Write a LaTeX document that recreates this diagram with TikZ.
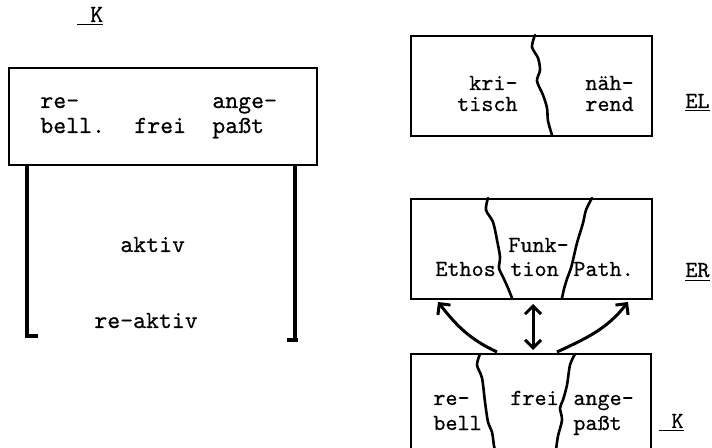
\documentclass[tikz,border=0pt]{standalone}
\usepackage{fontspec}
\usetikzlibrary{arrows.meta}
\newfontfamily\tw{lmmono10-regular.otf}[FakeBold=0.5]
\begin{document}
\begin{tikzpicture}[x=0.5pt,y=-0.5pt,
  boxline/.style={line width=1.1pt},
  legline/.style={line width=1.6pt},
  divline/.style={line width=1.3pt, line join=round, line cap=round},
  arrline/.style={line width=1.5pt, -{Straight Barb[length=4pt,width=8pt]}},
  dblarr/.style={line width=1.5pt, {Straight Barb[length=4pt,width=8pt]}-{Straight Barb[length=4pt,width=8pt]}},
  txt/.style={font=\fontsize{11.5}{13}\tw, inner sep=0pt},
  bigtxt/.style={font=\fontsize{12.3}{14}\tw, inner sep=0pt},
  bw/.style={txt, anchor=base west},
  be/.style={txt, anchor=base east},
  lw/.style={bigtxt, anchor=base west}]
\useasboundingbox (0,0) rectangle (712,448);
\fill[white] (0,0) rectangle (712,448);

% ---------- left figure ----------
\node[lw] (kl) at (77,22) {\underline{\ K}};
\node (lbox) [boxline, draw, minimum width=154pt, minimum height=48.5pt, inner sep=0pt, anchor=north west] at (8,67) {};
\node[lw] (l1) at (40,108) {re-};
\node[lw] (l2) at (40,133) {bell.};
\node[lw] (l3) at (134,133) {frei};
\node[lw] (l4) at (212,108) {ange-};
\node[lw] (l5) at (212,133) {paßt};
\draw[legline] (27,164) -- (27,336) -- (38,336);
\draw[legline] (295,164) -- (295,340);
\draw[legline] (287,340) -- (298,340);
\node[lw] (akt) at (120,252) {aktiv};
\node[lw] (rakt) at (94,328) {re-aktiv};

% ---------- EL box ----------
\node (el) [boxline, draw, minimum width=120.5pt, minimum height=50pt, inner sep=0pt, anchor=north west] at (410,35) {};
\draw[divline] plot[smooth] coordinates {(535,35) (532,47) (538,58) (540,70) (537,81) (543,95) (547,108) (548,121) (552,135)};
\node[be] (e1) at (518,90) {kri-};
\node[be] (e2) at (518,111) {tisch};
\node[bw] (e3) at (585,90) {näh-};
\node[bw] (e4) at (585,111) {rend};
\node[bw] (lel) at (685,108) {\underline{EL}};

% ---------- ER box ----------
\node (er) [boxline, draw, minimum width=120.5pt, minimum height=50pt, inner sep=0pt, anchor=north west] at (410,198) {};
\draw[divline] plot[smooth] coordinates {(488,198) (486,210) (493,222) (497,240) (500,257) (499,268) (503,277) (508,288) (512,298)};
\draw[divline] plot[smooth] coordinates {(592,198) (586,210) (583,223) (577,243) (573,260) (571,268) (567,279) (564,289) (562,298)};
\node[bw] (r1) at (508,252) {Funk-};
\node[bw] (r2) at (435,276) {Ethos};
\node[bw] (r3) at (510,276) {tion};
\node[bw] (r4) at (573,276) {Path.};
\node[bw] (ler) at (685,277) {\underline{ER}};

% ---------- K box (cut at bottom) ----------
\draw[boxline] (411,452) -- (411,354) -- (651,354) -- (651,452);
\draw[divline] plot[smooth] coordinates {(480,354) (477,365) (482,378) (485,402) (488,422) (492,432) (494,446) (495,450)};
\draw[divline] plot[smooth] coordinates {(575,354) (570,365) (567,385) (563,400) (560,408) (562,420) (558,436) (556,450)};
\node[bw] (k1) at (433,405) {re-};
\node[bw] (k2) at (433,430) {bell};
\node[bw] (k3) at (510,405) {frei};
\node[bw] (k4) at (573,405) {ange-};
\node[bw] (k5) at (573,430) {paßt};
\node[bw] (kr) at (659,428) {\underline{\ K}};

% ---------- arrows ----------
\coordinate (a1s) at (497,352);
\coordinate (a1e) at (438,302);
\coordinate (a2s) at (533,350);
\coordinate (a2e) at (533,304);
\coordinate (a3s) at (557,352);
\coordinate (a3e) at (628,302);
\draw[arrline] (a1s) to[out=155, in=-52] (a1e);
\draw[dblarr] (a2s) -- (a2e);
\draw[arrline] (a3s) to[out=25, in=-128] (a3e);
\end{tikzpicture}
\end{document}
